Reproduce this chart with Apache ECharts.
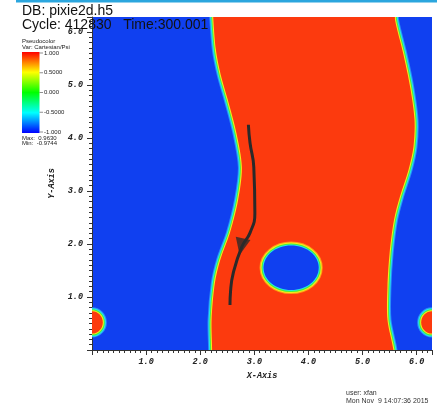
<!DOCTYPE html>
<html>
<head>
<meta charset="utf-8">
<script src="https://cdn.jsdelivr.net/npm/echarts@6/dist/echarts.min.js"></script>
<style>
html, body { margin: 0; padding: 0; background: #fff; }
#main { width: 437px; height: 410px; }
</style>
</head>
<body>
<div id="main"></div>
<script>
// 数据：红色带的左右边界 (x 在给定 y 处)
const axisMax = 6.2832;
const leftY  = [6.6, 6.28, 5.66, 5.19, 4.72, 4.09, 3.45, 2.83, 2.21, 1.70, 1.26, 0.57, 0.0, -0.3];
const leftX  = [2.23, 2.24, 2.29, 2.38, 2.51, 2.67, 2.77, 2.70, 2.55, 2.37, 2.27, 2.21, 2.22, 2.22];
const rightY = [6.6, 6.23, 5.60, 4.96, 4.34, 3.83, 3.40, 2.89, 2.45, 1.83, 1.19, 0.57, 0.0, -0.3];
const rightX = [5.58, 5.60, 5.75, 5.88, 5.96, 5.94, 5.85, 5.69, 5.58, 5.50, 5.46, 5.46, 5.57, 5.58];

// blue island inside the red band
const bubbleCenter = [3.68, 1.55];
const bubbleRadius = [0.51, 0.42];

// red half-blobs on the periodic edges
const blobX = [0, 6.2832];
const blobY = [0.52, 0.52];
const blobR = [0.2, 0.21];

// streamline
const streamX = [2.89, 2.92, 2.99, 3.01, 2.92, 2.77, 2.61, 2.56, 2.55];
const streamY = [4.25, 3.91, 3.45, 2.58, 2.21, 1.95, 1.45, 1.10, 0.85];
const arrowAt = [2.76, 1.95];

// legend
const legendTicks = ['1.000', '0.5000', '0.000', '-0.5000', '-1.000'];
const fieldMax = '0.9630';
const fieldMin = '-0.9744';

const RED = '#fc3a0e';
const BLUE = '#1040f0';

let myChart = echarts.init(document.getElementById('main'));

// 由外到内的过渡色环
function layered(type, shape, colors, fill) {
    const kids = colors.map((c, i) => ({
        type: type,
        shape: shape,
        style: { fill: 'none', stroke: c, lineWidth: (colors.length - i) * 2 }
    }));
    kids.push({ type: type, shape: shape, style: { fill: fill, stroke: null } });
    return kids;
}

const toRed = ['#2a8cf6', '#22e6ee', '#48ef3c', '#f4ec1e'];
const toBlue = ['#ff9a14', '#f4ec1e', '#48ef3c', '#22e6ee'];

function bandItem(params, api) {
    const pts = [];
    for (let i = 0; i < leftY.length; i++) pts.push(api.coord([leftX[i], leftY[i]]));
    for (let i = rightY.length - 1; i >= 0; i--) pts.push(api.coord([rightX[i], rightY[i]]));
    return { type: 'group', children: layered('polygon', { points: pts, smooth: 0.3 }, toRed, RED) };
}

function bubbleItem(params, api) {
    const c = api.coord(bubbleCenter);
    const s = api.size(bubbleRadius);
    return { type: 'group', children: layered('ellipse', { cx: c[0], cy: c[1], rx: s[0], ry: s[1] }, toBlue, BLUE) };
}

function blobItem(params, api) {
    const c = api.coord([api.value(0), api.value(1)]);
    const s = api.size(blobR);
    return { type: 'group', children: layered('ellipse', { cx: c[0], cy: c[1], rx: s[0], ry: s[1] }, toRed, RED) };
}

const tickFont = {
    fontFamily: 'Liberation Mono',
    fontStyle: 'italic',
    fontWeight: 'bold',
    fontSize: 8.5,
    color: '#222'
};

function fmt(v) {
    if (v === 0 || Math.abs(v - Math.round(v)) > 1e-6) return '';
    return v.toFixed(1);
}

const legendTop = 52, legendH = 81;
const graphics = [
    { type: 'rect', shape: { x: 16, y: 0, width: 421, height: 2.5 }, style: { fill: '#2ba6de' } },
    { type: 'text', x: 22, y: 11.3, style: { text: 'DB: pixie2d.h5', font: '14px "Liberation Sans"', fill: '#111', verticalAlign: 'middle' } },
    { type: 'text', x: 22, y: 25.3, style: { text: 'Cycle: 412830   Time:300.001', font: '14px "Liberation Sans"', fill: '#111', verticalAlign: 'middle' }, z: 100 },
    { type: 'text', x: 22, y: 41.5, style: { text: 'Pseudocolor', font: '6px "Liberation Sans"', fill: '#222', verticalAlign: 'middle' } },
    { type: 'text', x: 22, y: 47, style: { text: 'Var: Cartesian/Psi', font: '6px "Liberation Sans"', fill: '#222', verticalAlign: 'middle' } },
    {
        type: 'rect', shape: { x: 22, y: legendTop, width: 17.5, height: legendH },
        style: {
            fill: {
                type: 'linear', x: 0, y: 0, x2: 0, y2: 1,
                colorStops: [
                    { offset: 0, color: '#ff0000' },
                    { offset: 0.25, color: '#ffff00' },
                    { offset: 0.5, color: '#00ff00' },
                    { offset: 0.75, color: '#00ffff' },
                    { offset: 1, color: '#0000ff' }
                ]
            }
        }
    },
    { type: 'text', x: 22, y: 138.5, style: { text: 'Max:  ' + fieldMax, font: '6px "Liberation Sans"', fill: '#222', verticalAlign: 'middle' } },
    { type: 'text', x: 22, y: 143.5, style: { text: 'Min:  ' + fieldMin, font: '6px "Liberation Sans"', fill: '#222', verticalAlign: 'middle' } },
    { type: 'text', x: 346, y: 393, style: { text: 'user: xfan', font: '7px "Liberation Sans"', fill: '#333', verticalAlign: 'middle' } },
    { type: 'text', x: 346, y: 401.5, style: { text: 'Mon Nov  9 14:07:36 2015', font: '7px "Liberation Sans"', fill: '#333', verticalAlign: 'middle' } }
];
legendTicks.forEach((t, i) => {
    const y = legendTop + 1 + i * (legendH - 2) / (legendTicks.length - 1);
    graphics.push({ type: 'line', shape: { x1: 39.5, y1: y, x2: 43, y2: y }, style: { stroke: '#444', lineWidth: 0.6 } });
    graphics.push({ type: 'text', x: 44, y: y, style: { text: t, font: '6px "Liberation Sans"', fill: '#222', verticalAlign: 'middle' } });
});

option = {
    animation: false,
    backgroundColor: '#fff',
    grid: {
        left: 92, top: 17, width: 340, height: 333,
        show: true, backgroundColor: BLUE, borderWidth: 0
    },
    xAxis: {
        type: 'value', min: 0, max: axisMax, interval: 1,
        name: 'X-Axis', nameLocation: 'middle', nameGap: 15,
        nameTextStyle: tickFont,
        axisLine: { show: true, lineStyle: { color: '#333', width: 1 } },
        axisTick: { show: true, length: 5, lineStyle: { color: '#333' } },
        minorTick: { show: true, splitNumber: 10, length: 3, lineStyle: { color: '#333' } },
        splitLine: { show: false },
        axisLabel: Object.assign({ margin: 7, formatter: fmt, showMinLabel: false, showMaxLabel: false }, tickFont)
    },
    yAxis: {
        type: 'value', min: 0, max: axisMax, interval: 1,
        name: 'Y-Axis', nameLocation: 'middle', nameGap: 27,
        nameTextStyle: tickFont,
        axisLine: { show: true, lineStyle: { color: '#333', width: 1 } },
        axisTick: { show: true, length: 5, lineStyle: { color: '#333' } },
        minorTick: { show: true, splitNumber: 10, length: 3, lineStyle: { color: '#333' } },
        splitLine: { show: false },
        axisLabel: Object.assign({ margin: 9, formatter: fmt, showMinLabel: false, showMaxLabel: false }, tickFont)
    },
    graphic: graphics,
    series: [
        { type: 'custom', clip: true, renderItem: bandItem, data: [[0, 0]], z: 2 },
        { type: 'custom', clip: true, renderItem: bubbleItem, data: [bubbleCenter], z: 3 },
        { type: 'custom', clip: true, renderItem: blobItem, data: blobX.map((x, i) => [x, blobY[i]]), z: 3 },
        {
            type: 'line', data: streamX.map((x, i) => [x, streamY[i]]),
            smooth: true, symbol: 'none', z: 5,
            lineStyle: { color: '#2a2a2a', width: 3 }
        },
        {
            type: 'scatter', data: [arrowAt], symbol: 'triangle',
            symbolSize: [15, 17], symbolRotate: 168, z: 6,
            itemStyle: { color: '#2a2a2a' }
        }
    ]
};

myChart.setOption(option);
</script>
</body>
</html>
